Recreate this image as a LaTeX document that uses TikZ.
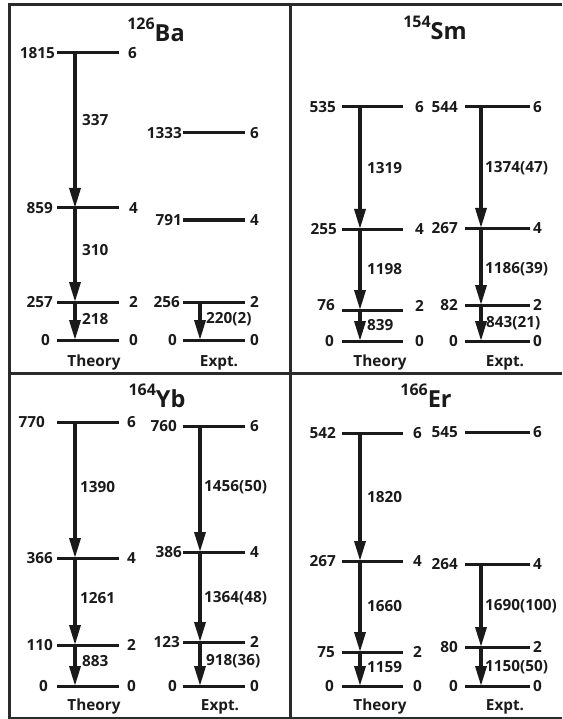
\documentclass[tikz,border=0pt]{standalone}
\usepackage{fontspec}
\setmainfont{Open Sans}
\usetikzlibrary{arrows.meta}
\definecolor{ink}{HTML}{1A1A1A}
\definecolor{frame}{HTML}{2B2B2B}
\tikzset{
  lvl/.style={line width=3pt,ink},
  trans/.style={line width=3.4pt,ink,-{Triangle[length=20pt,width=11pt]}},
  elab/.style={inner sep=0pt,text=ink,font=\fontsize{15.3}{17}\selectfont\bfseries},
  tlab/.style={inner sep=0pt,text=ink,anchor=west,font=\fontsize{15.3}{17}\selectfont\bfseries},
  clab/.style={inner sep=0pt,text=ink,anchor=base,font=\fontsize{15.3}{17}\selectfont\bfseries},
  ttl/.style={inner sep=0pt,text=ink,anchor=base,font=\bfseries},
  framel/.style={line width=3pt,frame}
}
% name, x1, x2, y, left text, left east x, right text, right west x
\newcommand\lvl[8]{%
  \coordinate (#1l) at (#2,#4); \coordinate (#1r) at (#3,#4);
  \draw[lvl] (#1l) -- (#1r);
  \node[elab,anchor=east] (#1e) at (#6,#4) {#5};
  \node[elab,anchor=west] (#1s) at (#8,#4) {#7};
}
\newcommand\ttlnuc[2]{{\fontsize{16}{16}\selectfont\raisebox{12pt}{#1}}{\fontsize{23.5}{26}\selectfont #2}}
\begin{document}
\begin{tikzpicture}[x=1pt,y=-1pt]
\useasboundingbox (0,0) rectangle (562,719);
% frame
\coordinate (fTL) at (9,5); \coordinate (fTR) at (562,5);
\coordinate (fBL) at (9,718); \coordinate (fBR) at (562,718);
\coordinate (fML) at (9,373); \coordinate (fMR) at (562,373);
\coordinate (fMT) at (290,5); \coordinate (fMB) at (290,718);
\draw[framel] (fTR) -- (fTL) -- (fBL) -- (fBR);
\draw[framel] (fML) -- (fMR);
\draw[framel] (fMT) -- (fMB);

% ===== 126Ba =====
\node[ttl] (tBa) at (156,42) {\ttlnuc{126}{Ba}};
\lvl{ba6}{57}{119}{53}{1815}{55}{6}{128}
\lvl{ba4}{57}{119}{208}{859}{53}{4}{129}
\lvl{ba2}{57}{119}{302}{257}{53}{2}{129}
\lvl{ba0}{57}{119}{340}{0}{50}{0}{129}
\lvl{bx6}{183}{245}{133}{1333}{182}{6}{250}
\lvl{bx4}{183}{245}{220}{791}{182}{4}{250}
\lvl{bx2}{183}{245}{302}{256}{180}{2}{250}
\lvl{bx0}{183}{245}{340}{0}{177}{0}{250}
\coordinate (ba6a) at (75,53); \coordinate (ba4a) at (75,208);
\coordinate (ba2a) at (75,302); \coordinate (ba0a) at (75,340);
\draw[trans] (ba6a) -- (ba4a);
\draw[trans] (ba4a) -- (ba2a);
\draw[trans] (ba2a) -- (ba0a);
\coordinate (bx2a) at (200,302); \coordinate (bx0a) at (200,340);
\draw[trans] (bx2a) -- (bx0a);
\node[tlab] (b337) at (82,120) {337};
\node[tlab] (b310) at (82,250) {310};
\node[tlab] (b218) at (82,319) {218};
\node[tlab] (b220) at (206,319) {220(2)};
\node[clab] (bTh) at (94,366) {Theory};
\node[clab] (bEx) at (219,366) {Expt.};

% ===== 154Sm =====
\node[ttl] (tSm) at (435,40) {\ttlnuc{154}{Sm}};
\lvl{sm6}{342}{403}{107}{535}{336}{6}{415}
\lvl{sm4}{342}{403}{229}{255}{337}{4}{415}
\coordinate (sm2l) at (342,310); \coordinate (sm2r) at (403,310);
\draw[lvl] (sm2l) -- (sm2r);
\node[elab,anchor=east] (sm2e) at (335,305) {76};
\node[elab,anchor=west] (sm2s) at (415,306) {2};
\lvl{sm0}{342}{403}{341}{0}{334}{0}{415}
\lvl{sx6}{465}{530}{107}{544}{458}{6}{533}
\lvl{sx4}{465}{530}{228}{267}{458}{4}{533}
\lvl{sx2}{465}{530}{305}{82}{458}{2}{533}
\lvl{sx0}{465}{530}{341}{0}{458}{0}{533}
\coordinate (sm6a) at (360,107); \coordinate (sm4a) at (360,229);
\coordinate (sm2a) at (360,310); \coordinate (sm0a) at (360,341);
\draw[trans] (sm6a) -- (sm4a);
\draw[trans] (sm4a) -- (sm2a);
\draw[trans] (sm2a) -- (sm0a);
\coordinate (sx6a) at (481,107); \coordinate (sx4a) at (481,228);
\coordinate (sx2a) at (481,305); \coordinate (sx0a) at (481,341);
\draw[trans] (sx6a) -- (sx4a);
\draw[trans] (sx4a) -- (sx2a);
\draw[trans] (sx2a) -- (sx0a);
\node[tlab] (s1319) at (367,168) {1319};
\node[tlab] (s1374) at (485,168) {1374(47)};
\node[tlab] (s1198) at (367,269) {1198};
\node[tlab] (s1186) at (485,269) {1186(39)};
\node[tlab] (s839) at (367,325) {839};
\node[tlab] (s843) at (486,323) {843(21)};
\node[clab] (sTh) at (380,366) {Theory};
\node[clab] (sEx) at (505,366) {Expt.};

% ===== 164Yb =====
\node[ttl] (tYb) at (157,407) {\ttlnuc{164}{Yb}};
\lvl{yb6}{57}{119}{422}{770}{45}{6}{127}
\lvl{yb4}{57}{119}{558}{366}{53}{4}{127}
\lvl{yb2}{57}{119}{645}{110}{53}{2}{127}
\lvl{yb0}{57}{119}{686}{0}{48}{0}{127}
\lvl{yx6}{183}{245}{426}{760}{177}{6}{250}
\lvl{yx4}{183}{245}{552}{386}{182}{4}{250}
\lvl{yx2}{183}{245}{642}{123}{180}{2}{250}
\lvl{yx0}{183}{245}{686}{0}{177}{0}{250}
\coordinate (yb6a) at (75,422); \coordinate (yb4a) at (75,558);
\coordinate (yb2a) at (75,645); \coordinate (yb0a) at (75,686);
\draw[trans] (yb6a) -- (yb4a);
\draw[trans] (yb4a) -- (yb2a);
\draw[trans] (yb2a) -- (yb0a);
\coordinate (yx6a) at (200,426); \coordinate (yx4a) at (200,552);
\coordinate (yx2a) at (200,642); \coordinate (yx0a) at (200,686);
\draw[trans] (yx6a) -- (yx4a);
\draw[trans] (yx4a) -- (yx2a);
\draw[trans] (yx2a) -- (yx0a);
\node[tlab] (y1390) at (80,487) {1390};
\node[tlab] (y1456) at (204,487) {1456(50)};
\node[tlab] (y1261) at (80,598) {1261};
\node[tlab] (y1364) at (204,598) {1364(48)};
\node[tlab] (y883) at (82,661) {883};
\node[tlab] (y918) at (206,661) {918(36)};
\node[clab] (yTh) at (94,710) {Theory};
\node[clab] (yEx) at (220,710) {Expt.};

% ===== 166Er =====
\node[ttl] (tEr) at (426,407) {\ttlnuc{166}{Er}};
\lvl{er6}{342}{403}{433}{542}{336}{6}{413}
\lvl{er4}{342}{403}{561}{267}{336}{4}{413}
\lvl{er2}{342}{403}{652}{75}{335}{2}{413}
\lvl{er0}{342}{403}{686}{0}{334}{0}{413}
\lvl{ex6}{465}{530}{432}{545}{458}{6}{533}
\lvl{ex4}{465}{530}{564}{264}{458}{4}{533}
\lvl{ex2}{465}{530}{647}{80}{458}{2}{533}
\lvl{ex0}{465}{530}{686}{0}{458}{0}{533}
\coordinate (er6a) at (360,433); \coordinate (er4a) at (360,561);
\coordinate (er2a) at (360,652); \coordinate (er0a) at (360,686);
\draw[trans] (er6a) -- (er4a);
\draw[trans] (er4a) -- (er2a);
\draw[trans] (er2a) -- (er0a);
\coordinate (ex4a) at (481,564); \coordinate (ex2a) at (481,647);
\coordinate (ex0a) at (481,686);
\draw[trans] (ex4a) -- (ex2a);
\draw[trans] (ex2a) -- (ex0a);
\node[tlab] (e1820) at (367,497) {1820};
\node[tlab] (e1660) at (367,606) {1660};
\node[tlab] (e1690) at (485,606) {1690(100)};
\node[tlab] (e1159) at (367,667) {1159};
\node[tlab] (e1150) at (485,667) {1150(50)};
\node[clab] (eTh) at (380,710) {Theory};
\node[clab] (eEx) at (505,710) {Expt.};
\end{tikzpicture}
\end{document}
